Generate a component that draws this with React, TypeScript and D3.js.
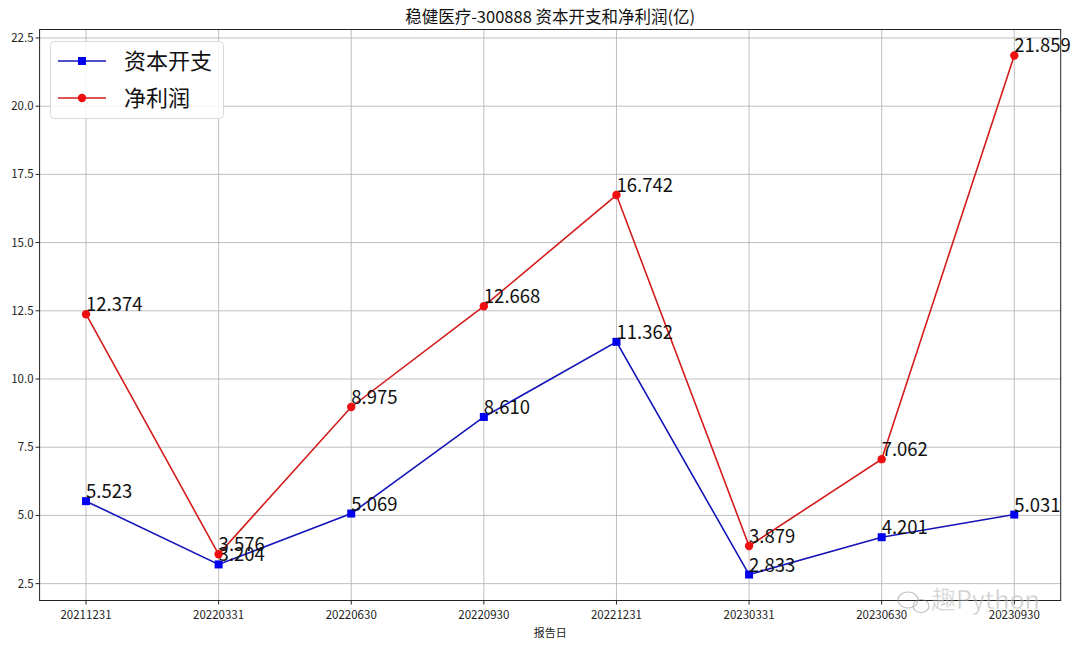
import React from "react";
import * as d3 from "d3";

const categories = ["20211231", "20220331", "20220630", "20220930", "20221231", "20230331", "20230630", "20230930"];
const capex = [5.523, 3.204, 5.069, 8.61, 11.362, 2.833, 4.201, 5.031];
const profit = [12.374, 3.576, 8.975, 12.668, 16.742, 3.879, 7.062, 21.859];
const yTicks = [2.5, 5.0, 7.5, 10.0, 12.5, 15.0, 17.5, 20.0, 22.5];
const seriesNames = ["资本开支", "净利润"];
const title = "稳健医疗-300888 资本开支和净利润(亿)";
const xLabel = "报告日";

const W = 1080, H = 648;
const L = 39.6, R = 1060.7, T = 29.5, B = 600.5;
const FONT = "'Noto Sans CJK SC', 'Noto Sans', sans-serif";

export default function App() {
  const x = d3.scaleLinear().domain([-0.35, categories.length - 1 + 0.35]).range([L, R]);
  const all = [...capex, ...profit];
  const mn = d3.min(all)!, mx = d3.max(all)!;
  const pad = (mx - mn) * 0.05;
  const y = d3.scaleLinear().domain([mn - pad, mx + pad]).range([B, T]);
  const line = d3.line<number>().x((_, i) => x(i)).y((d) => y(d));

  const blueLine = "#1414b8", blueMark = "#0000ee";
  const redLine = "#d41c1c", redMark = "#ee1010";

  return (
    <svg width={W} height={H} style={{ position: "absolute", left: 0, top: 0, background: "#fff" }} fontFamily={FONT}>
      <rect x={0} y={0} width={W} height={H} fill="#fff" />
      {/* grid */}
      {categories.map((c, i) => (
        <line key={"gx" + c} x1={x(i)} x2={x(i)} y1={T} y2={B} stroke="#b8b8b8" strokeWidth={0.9} />
      ))}
      {yTicks.map((t) => (
        <line key={"gy" + t} x1={L} x2={R} y1={y(t)} y2={y(t)} stroke="#b8b8b8" strokeWidth={0.9} />
      ))}
      {/* axes frame */}
      <rect x={L} y={T} width={R - L} height={B - T} fill="none" stroke="#222" strokeWidth={1} />
      {/* ticks */}
      {categories.map((c, i) => (
        <g key={"tx" + c}>
          <line x1={x(i)} x2={x(i)} y1={B} y2={B + 4} stroke="#222" />
          <text x={x(i)} y={B + 18} fontSize={11.5} textAnchor="middle" fill="#222">{c}</text>
        </g>
      ))}
      {yTicks.map((t) => (
        <g key={"ty" + t}>
          <line x1={L - 4} x2={L} y1={y(t)} y2={y(t)} stroke="#222" />
          <text x={L - 6} y={y(t) + 4} fontSize={11.5} textAnchor="end" fill="#222">{t.toFixed(1)}</text>
        </g>
      ))}
      <text x={(L + R) / 2} y={B + 36} fontSize={11} textAnchor="middle" fill="#222">{xLabel}</text>
      <text x={(L + R) / 2} y={23} fontSize={16.5} textAnchor="middle" fill="#111">{title}</text>

      {/* watermark */}
      <g opacity={0.5}>
        <ellipse cx={908} cy={600} rx={10} ry={8} fill="none" stroke="#888" strokeWidth={1.2} />
        <ellipse cx={921} cy={606} rx={8} ry={6.5} fill="none" stroke="#888" strokeWidth={1.2} />
        <text x={931} y={609} fontSize={25} fill="#999" stroke="#fff" strokeWidth={0.5}>趣Python</text>
      </g>

      {/* series */}
      <path d={line(capex) || ""} fill="none" stroke={blueLine} strokeWidth={1.6} />
      <path d={line(profit) || ""} fill="none" stroke={redLine} strokeWidth={1.6} />
      {capex.map((v, i) => (
        <rect key={"cm" + i} x={x(i) - 4} y={y(v) - 4} width={8} height={8} fill={blueMark} />
      ))}
      {profit.map((v, i) => (
        <circle key={"pm" + i} cx={x(i)} cy={y(v)} r={4.2} fill={redMark} />
      ))}
      {capex.map((v, i) => (
        <text key={"cl" + i} x={x(i)} y={y(v) - 3} fontSize={18.5} fill="#111">{v.toFixed(3)}</text>
      ))}
      {profit.map((v, i) => (
        <text key={"pl" + i} x={x(i)} y={y(v) - 3} fontSize={18.5} fill="#111">{v.toFixed(3)}</text>
      ))}

      {/* legend */}
      <rect x={50.5} y={41.5} width={173} height={77} rx={4} fill="#fff" fillOpacity={0.85} stroke="#d8d8d8" />
      <line x1={58} x2={106} y1={61} y2={61} stroke={blueLine} strokeWidth={1.6} />
      <rect x={78} y={57} width={8} height={8} fill={blueMark} />
      <text x={124} y={69} fontSize={22} fill="#111">{seriesNames[0]}</text>
      <line x1={58} x2={106} y1={98} y2={98} stroke={redLine} strokeWidth={1.6} />
      <circle cx={82} cy={98} r={4.2} fill={redMark} />
      <text x={124} y={106} fontSize={22} fill="#111">{seriesNames[1]}</text>
    </svg>
  );
}
